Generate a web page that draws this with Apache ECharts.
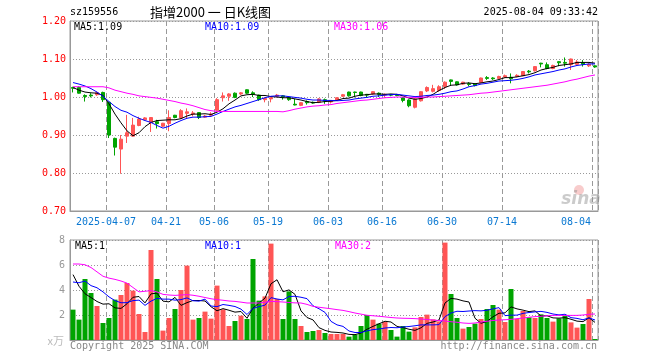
<!DOCTYPE html>
<html>
<head>
<meta charset="utf-8">
<script src="https://cdn.jsdelivr.net/npm/echarts/dist/echarts.min.js"></script>
<style>
html,body{margin:0;padding:0;background:#fff;}
#chart{width:660px;height:360px;}
</style>
</head>
<body>
<div id="chart"></div>
<script>
const dates = [
'2025-03-27','2025-03-28','2025-03-31','2025-04-01','2025-04-02','2025-04-03','2025-04-07','2025-04-08','2025-04-09','2025-04-10','2025-04-11',
'2025-04-14','2025-04-15','2025-04-16','2025-04-17','2025-04-18',
'2025-04-21','2025-04-22','2025-04-23','2025-04-24','2025-04-25',
'2025-04-28','2025-04-29','2025-04-30',
'2025-05-06','2025-05-07','2025-05-08','2025-05-09',
'2025-05-12','2025-05-13','2025-05-14','2025-05-15','2025-05-16',
'2025-05-19','2025-05-20','2025-05-21','2025-05-22','2025-05-23',
'2025-05-26','2025-05-27','2025-05-28','2025-05-29','2025-05-30',
'2025-06-03','2025-06-04','2025-06-05','2025-06-06',
'2025-06-09','2025-06-10','2025-06-11','2025-06-12','2025-06-13',
'2025-06-16','2025-06-17','2025-06-18','2025-06-19','2025-06-20',
'2025-06-23','2025-06-24','2025-06-25','2025-06-26','2025-06-27',
'2025-06-30','2025-07-01','2025-07-02','2025-07-03','2025-07-04',
'2025-07-07','2025-07-08','2025-07-09','2025-07-10','2025-07-11',
'2025-07-14','2025-07-15','2025-07-16','2025-07-17','2025-07-18',
'2025-07-21','2025-07-22','2025-07-23','2025-07-24','2025-07-25',
'2025-07-28','2025-07-29','2025-07-30','2025-07-31','2025-08-01',
'2025-08-04'];

const opens = [
1.025,1.025,1.004,1.005,1.006,1.012,0.986,0.891,0.863,0.897,
0.897,0.925,0.940,0.933,0.935,0.923,0.930,0.952,0.945,0.957,
0.955,0.959,0.947,0.952,0.965,0.998,1.002,1.010,1.008,1.019,
1.011,1.005,0.993,0.995,1.002,1.003,0.999,0.981,0.978,0.988,
0.986,0.986,0.993,0.987,0.992,1.002,1.013,1.013,1.013,1.007,
1.008,1.010,1.005,1.006,1.006,0.998,0.992,0.973,0.990,1.016,
1.015,1.017,1.027,1.045,1.040,1.034,1.035,1.034,1.038,1.051,
1.050,1.049,1.052,1.052,1.054,1.056,1.068,1.069,1.089,1.085,
1.075,1.093,1.091,1.085,1.086,1.090,1.082,1.082];
const closes = [
1.023,1.010,1.001,1.003,1.011,0.993,0.900,0.868,0.889,0.906,
0.926,0.942,0.945,0.946,0.930,0.931,0.946,0.946,0.964,0.961,
0.958,0.946,0.950,0.955,0.993,1.003,1.008,0.999,1.011,1.010,
1.008,0.993,0.996,0.998,1.005,1.000,0.993,0.979,0.985,0.985,
0.984,0.995,0.990,0.990,0.998,1.006,1.003,1.012,1.004,1.005,
1.014,1.007,1.007,1.005,1.004,0.991,0.977,0.995,1.014,1.025,
1.022,1.027,1.039,1.041,1.032,1.039,1.033,1.030,1.050,1.049,
1.048,1.054,1.056,1.048,1.057,1.067,1.066,1.080,1.087,1.075,
1.083,1.090,1.089,1.100,1.092,1.086,1.086,1.079];
const lows = [
1.012,1.009,0.988,0.999,1.003,0.987,0.892,0.846,0.798,0.879,
0.895,0.923,0.938,0.908,0.917,0.921,0.910,0.944,0.942,0.944,
0.949,0.942,0.945,0.948,0.963,0.988,0.990,0.997,1.005,1.008,
1.000,0.990,0.986,0.986,0.999,0.993,0.990,0.978,0.976,0.980,
0.982,0.984,0.982,0.983,0.990,1.000,1.001,0.999,1.002,1.000,
1.006,1.000,0.998,1.002,1.002,0.986,0.973,0.970,0.988,1.013,
1.012,1.014,1.021,1.030,1.030,1.032,1.028,1.028,1.036,1.045,
1.045,1.047,1.050,1.036,1.052,1.055,1.062,1.067,1.078,1.073,
1.073,1.081,1.080,1.071,1.083,1.080,1.079,1.077];
const highs = [
1.027,1.028,1.007,1.010,1.014,1.014,0.988,0.893,0.900,0.953,
0.945,0.948,0.947,0.947,0.940,0.932,0.965,0.953,0.968,0.970,
0.963,0.960,0.953,0.960,0.997,1.012,1.010,1.012,1.013,1.020,
1.015,1.006,0.999,1.000,1.008,1.005,1.000,0.995,0.986,0.991,
0.988,0.997,0.996,0.992,0.999,1.008,1.014,1.014,1.014,1.008,
1.015,1.012,1.009,1.008,1.008,1.000,0.994,0.997,1.015,1.028,
1.032,1.031,1.041,1.046,1.041,1.040,1.039,1.035,1.051,1.055,
1.052,1.056,1.059,1.062,1.060,1.068,1.071,1.081,1.090,1.091,
1.085,1.094,1.104,1.101,1.097,1.097,1.089,1.083];

const ma5 = [
1.025,1.018,1.013,1.011,1.010,1.004,0.982,0.955,0.932,0.911,
0.898,0.906,0.922,0.933,0.938,0.939,0.940,0.940,0.943,0.950,
0.955,0.955,0.956,0.954,0.960,0.969,0.982,0.992,1.003,1.006,
1.007,1.004,1.004,1.001,1.000,0.998,0.998,0.995,0.992,0.988,
0.985,0.986,0.988,0.989,0.991,0.996,0.997,1.002,1.005,1.006,
1.008,1.008,1.007,1.008,1.007,1.003,0.997,0.994,0.996,1.000,
1.007,1.017,1.025,1.031,1.032,1.036,1.037,1.035,1.037,1.040,
1.042,1.046,1.051,1.051,1.053,1.056,1.059,1.064,1.071,1.075,
1.078,1.083,1.085,1.087,1.091,1.091,1.091,1.089];
const ma10 = [
1.038,1.034,1.029,1.022,1.013,1.002,0.988,0.975,0.965,0.960,
0.951,0.944,0.938,0.933,0.925,0.918,0.923,0.931,0.938,0.944,
0.947,0.947,0.948,0.949,0.955,0.962,0.968,0.974,0.978,0.983,
0.988,0.993,0.998,1.002,1.003,1.003,1.001,0.999,0.997,0.994,
0.992,0.992,0.991,0.991,0.990,0.991,0.992,0.995,0.997,0.999,
1.002,1.003,1.005,1.006,1.007,1.005,1.003,1.001,1.002,1.004,
1.005,1.007,1.010,1.014,1.016,1.021,1.027,1.030,1.034,1.036,
1.039,1.042,1.043,1.044,1.046,1.049,1.053,1.058,1.061,1.064,
1.067,1.071,1.074,1.079,1.083,1.085,1.087,1.087];
const ma30 = [
1.027,1.027,1.027,1.027,1.027,1.027,1.024,1.018,1.014,1.010,
1.007,1.003,1.001,0.999,0.997,0.994,0.991,0.988,0.984,0.981,
0.977,0.972,0.967,0.964,0.962,0.962,0.962,0.962,0.962,0.962,
0.962,0.962,0.962,0.962,0.962,0.961,0.964,0.968,0.971,0.974,
0.976,0.977,0.979,0.980,0.983,0.985,0.987,0.989,0.991,0.992,
0.994,0.996,0.998,0.999,1.000,1.000,0.999,0.999,0.999,1.000,
1.000,1.001,1.002,1.003,1.004,1.005,1.006,1.008,1.010,1.011,
1.013,1.015,1.017,1.019,1.021,1.023,1.025,1.027,1.029,1.031,
1.034,1.037,1.040,1.044,1.047,1.051,1.055,1.058];

// volume in units of 10k (万)
const volumes = [
2.43,1.63,4.88,3.76,2.72,1.36,1.76,3.23,3.60,4.56,
3.95,2.08,0.64,7.20,4.88,0.75,1.76,2.48,4.00,5.95,
1.63,1.76,2.27,1.71,4.35,2.45,1.12,1.52,1.95,1.68,
6.48,3.15,3.49,7.71,3.28,1.68,3.89,1.68,1.12,0.64,
0.72,0.80,0.56,0.48,0.48,0.48,0.27,0.43,1.12,2.00,
1.63,1.31,1.44,0.80,0.27,1.12,0.67,1.01,1.84,2.03,
1.65,1.49,7.79,3.68,1.76,0.91,1.04,1.31,1.68,2.48,
2.80,2.43,1.44,4.08,1.68,2.32,1.81,1.76,2.05,1.76,
1.47,1.73,1.95,1.41,0.99,1.28,3.28,0.08];
const volMa5 = [
5.23,4.30,3.70,3.40,3.08,2.87,2.90,2.57,2.53,2.90,
3.42,3.48,2.97,3.69,3.75,3.11,3.05,3.41,2.77,2.99,
3.16,3.16,3.12,2.66,2.34,2.51,2.38,2.23,2.28,1.74,
2.55,2.96,3.35,4.50,4.82,3.86,4.01,3.65,2.33,1.80,
1.61,0.99,0.77,0.64,0.61,0.56,0.45,0.43,0.56,0.86,
1.09,1.30,1.50,1.44,1.09,0.99,0.86,0.77,0.98,1.33,
1.44,1.60,2.96,3.33,3.27,3.13,3.04,1.74,1.34,1.48,
1.86,2.14,2.17,2.65,2.49,2.39,2.27,2.33,1.92,1.94,
1.77,1.75,1.79,1.66,1.51,1.47,1.78,1.41];
const volMa10 = [
4.64,4.58,4.72,4.35,4.18,3.85,3.45,3.15,2.98,2.99,
3.15,3.19,2.77,3.11,3.33,3.27,3.27,3.19,3.23,3.37,
3.14,3.11,3.27,2.72,2.67,2.84,2.77,2.68,2.47,2.04,
2.53,2.67,2.79,3.39,3.28,3.21,3.48,3.50,3.42,3.31,
2.74,2.50,2.21,1.49,1.21,1.09,0.72,0.60,0.60,0.73,
0.83,0.88,0.96,1.00,0.98,1.04,1.08,1.14,1.21,1.21,
1.21,1.23,1.87,2.16,2.30,2.28,2.32,2.35,2.33,2.38,
2.49,2.59,1.95,1.99,1.99,2.13,2.20,2.25,2.29,2.21,
2.08,2.01,2.06,1.79,1.73,1.62,1.77,1.60];
const volMa30 = [
6.08,6.08,6.02,5.80,5.45,5.10,4.95,4.85,4.72,4.55,
4.20,3.85,3.90,3.95,3.85,3.65,3.60,3.57,3.60,3.63,
3.58,3.50,3.40,3.30,3.23,3.18,3.12,3.09,3.03,2.96,
2.96,2.96,3.02,3.09,3.07,3.04,3.00,2.97,2.96,2.85,
2.69,2.62,2.56,2.50,2.43,2.37,2.27,2.16,2.07,1.98,
1.94,1.90,1.85,1.80,1.76,1.74,1.73,1.71,1.68,1.64,
1.60,1.56,1.52,1.46,1.42,1.36,1.33,1.36,1.44,1.50,
1.56,1.60,1.62,1.65,1.71,1.76,1.82,1.87,1.90,1.94,
1.97,1.97,1.97,1.97,1.97,2.00,2.06,2.08];

const tickDates = ['2025-04-07','2025-04-21','2025-05-06','2025-05-19','2025-06-03','2025-06-16','2025-06-30','2025-07-14','2025-08-04'];
const tickLabels = ['2025-04-07','04-21','05-06','05-19','06-03','06-16','06-30','07-14','08-04'];
const priceTicks = [0.70, 1.20, 0.10];
const volTicks = [0, 8, 2];

const RED = '#ff5555', GREEN = '#00a400';
const MONO = '"DejaVu Sans Mono", "Liberation Mono", monospace';
const last = dates.length - 1;

const tickSet = new Set(tickDates);
const labelOf = {};
tickDates.forEach((d, k) => { labelOf[d] = tickLabels[k]; });
const isTick = (idx, val) => tickSet.has(val);

const candleData = dates.map((d, i) => [opens[i], closes[i], lows[i], highs[i]]);
const volData = volumes.map((v, i) => ({ value: v, itemStyle: { color: closes[i] >= opens[i] ? RED : GREEN } }));

const gridLineX = { show: true, interval: isTick, lineStyle: { color: '#999', type: [5, 3], width: 1 } };
const dotY = { show: true, lineStyle: { color: '#999', type: [1, 2], width: 1 } };

const chart = echarts.init(document.getElementById('chart'), null, { renderer: 'canvas' });

function txt(x, y, text, fill, font, align) {
  return { type: 'text', x: x, y: y, silent: true, z: 100,
    style: { text: text, fill: fill, font: font, align: align || 'left', verticalAlign: 'middle' } };
}

chart.setOption({
  animation: false,
  backgroundColor: '#fff',
  grid: [
    { left: 70, right: 62, top: 21, height: 190, show: true, borderColor: '#999', borderWidth: 1 },
    { left: 70, right: 62, top: 240, height: 100, show: true, borderColor: '#999', borderWidth: 1 }
  ],
  xAxis: [
    { type: 'category', gridIndex: 0, data: dates, boundaryGap: true,
      axisLine: { lineStyle: { color: '#999' } }, axisTick: { show: false },
      axisLabel: { interval: isTick, margin: 6, color: '#0a78d2', fontFamily: MONO, fontSize: 10,
        formatter: v => (v === dates[last] ? '{e|' : '{n|') + labelOf[v] + '}',
        rich: { n: { padding: [0, 6, 0, 0], color: '#0a78d2', fontFamily: MONO, fontSize: 10 },
                e: { padding: [0, 38, 0, 0], color: '#0a78d2', fontFamily: MONO, fontSize: 10 } } },
      splitLine: gridLineX },
    { type: 'category', gridIndex: 1, data: dates, boundaryGap: true,
      axisLine: { lineStyle: { color: '#999' } }, axisTick: { show: false }, axisLabel: { show: false },
      splitLine: gridLineX }
  ],
  yAxis: [
    { type: 'value', gridIndex: 0, min: priceTicks[0], max: priceTicks[1], interval: priceTicks[2],
      axisLine: { show: true, lineStyle: { color: '#999' } }, axisTick: { show: false },
      axisLabel: { color: '#ff0000', fontFamily: MONO, fontSize: 10, margin: 4, formatter: v => v.toFixed(2) },
      splitLine: dotY },
    { type: 'value', gridIndex: 1, min: volTicks[0], max: volTicks[1], interval: volTicks[2],
      axisLine: { show: true, lineStyle: { color: '#999' } }, axisTick: { show: false },
      axisLabel: { color: '#999', fontFamily: MONO, fontSize: 10, margin: 5, formatter: v => (v === 0 ? '' : String(v)) },
      splitLine: dotY }
  ],
  series: [
    { type: 'candlestick', xAxisIndex: 0, yAxisIndex: 0, data: candleData, barWidth: 4,
      itemStyle: { color: RED, color0: GREEN, borderColor: RED, borderColor0: GREEN, borderWidth: 1 } },
    { type: 'line', xAxisIndex: 0, yAxisIndex: 0, data: ma5, symbol: 'none', lineStyle: { color: '#000', width: 1 } },
    { type: 'line', xAxisIndex: 0, yAxisIndex: 0, data: ma10, symbol: 'none', lineStyle: { color: '#0000ff', width: 1 } },
    { type: 'line', xAxisIndex: 0, yAxisIndex: 0, data: ma30, symbol: 'none', lineStyle: { color: '#ff00ff', width: 1 } },
    { type: 'bar', xAxisIndex: 1, yAxisIndex: 1, data: volData, barWidth: 5 },
    { type: 'line', xAxisIndex: 1, yAxisIndex: 1, data: volMa5, symbol: 'none', lineStyle: { color: '#000', width: 1 } },
    { type: 'line', xAxisIndex: 1, yAxisIndex: 1, data: volMa10, symbol: 'none', lineStyle: { color: '#0000ff', width: 1 } },
    { type: 'line', xAxisIndex: 1, yAxisIndex: 1, data: volMa30, symbol: 'none', lineStyle: { color: '#ff00ff', width: 1 } }
  ],
  graphic: [
    txt(70, 12, 'sz159556', '#000', '10px ' + MONO),
    txt(150, 12, '指增2000 一 日K线图', '#000', '13px "Noto Sans CJK SC"'),
    txt(598, 12, '2025-08-04 09:33:42', '#000', '10px ' + MONO, 'right'),
    txt(74, 27, 'MA5:' + ma5[last].toFixed(2), '#000', '10px ' + MONO),
    txt(205, 27, 'MA10:' + ma10[last].toFixed(2), '#0000ff', '10px ' + MONO),
    txt(334, 27, 'MA30:' + ma30[last].toFixed(2), '#ff00ff', '10px ' + MONO),
    txt(75, 246.5, 'MA5:' + Math.floor(volMa5[last]), '#000', '10px ' + MONO),
    txt(205, 246.5, 'MA10:' + Math.floor(volMa10[last]), '#0000ff', '10px ' + MONO),
    txt(335, 246.5, 'MA30:' + Math.floor(volMa30[last]), '#ff00ff', '10px ' + MONO),
    txt(64, 341, 'x万', '#bbb', '11px "Noto Sans CJK SC"', 'right'),
    txt(70, 346, 'Copyright 2025 SINA.COM', '#888', '10px ' + MONO),
    txt(597, 346, 'http://finance.sina.com.cn', '#888', '10px ' + MONO, 'right'),
    { type: 'circle', shape: { cx: 579, cy: 190, r: 5 }, silent: true, z: 1,
      style: { fill: 'rgba(235,110,110,0.35)' } },
    txt(581, 200, 'sina', 'rgba(140,140,140,0.45)', 'italic bold 17px "DejaVu Sans"', 'center')
  ]
});
</script>
</body>
</html>
